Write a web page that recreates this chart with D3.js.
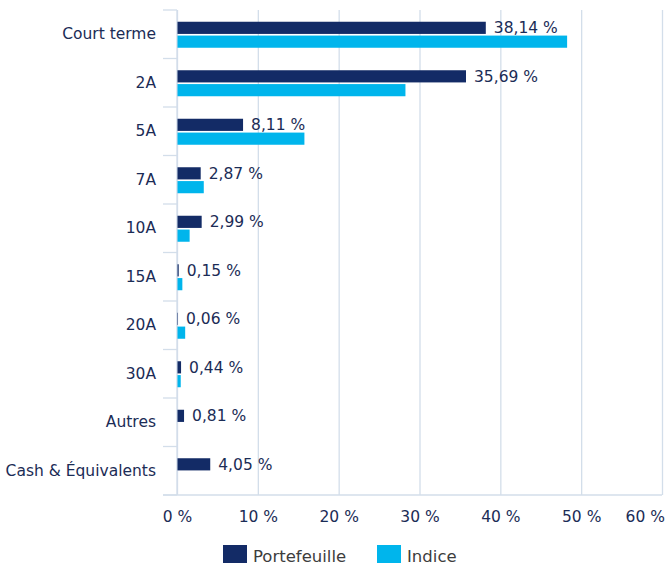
<!DOCTYPE html>
<html>
<head>
<meta charset="utf-8">
<script src="https://cdn.jsdelivr.net/npm/d3@7"></script>
<style>
  body { margin: 0; background: #fff; }
  text { font-family: "DejaVu Sans", Verdana, sans-serif; }
</style>
</head>
<body>
<div id="chart"></div>
<script>
const categories = ['Court terme', '2A', '5A', '7A', '10A', '15A', '20A', '30A', 'Autres', 'Cash & Équivalents'];
const portefeuille = [38.14, 35.69, 8.11, 2.87, 2.99, 0.15, 0.06, 0.44, 0.81, 4.05];
const indice = [48.2, 28.2, 15.7, 3.25, 1.5, 0.6, 0.95, 0.4, 0, 0];
const seriesNames = ['Portefeuille', 'Indice'];
const xTicks = [0, 10, 20, 30, 40, 50, 60];

const width = 667;
const height = 567;
const margin = { top: 10, right: 5, bottom: 72, left: 177 };
const colors = { Portefeuille: '#132b66', Indice: '#00b5ec' };
const textColor = '#1b2c56';
const gridColor = '#d3deea';

const svg = d3.select('#chart')
  .append('svg')
  .attr('width', width)
  .attr('height', height);

const x = d3.scaleLinear()
  .domain([0, 60])
  .range([margin.left, width - margin.right]);

const y = d3.scaleBand()
  .domain(categories)
  .range([margin.top, height - margin.bottom])
  .padding(0);

const groupH = 26;
const ySub = d3.scaleBand()
  .domain(seriesNames)
  .range([0, groupH])
  .paddingInner(0.12);

// vertical grid lines
svg.append('g')
  .attr('transform', `translate(0,${height - margin.bottom})`)
  .call(d3.axisBottom(x).tickValues(xTicks).tickSize(-(height - margin.top - margin.bottom)).tickFormat(''))
  .call(g => g.select('.domain').remove())
  .call(g => g.selectAll('.tick line').attr('stroke', gridColor).attr('stroke-width', 1.3));

// x tick labels
const xAxis = svg.append('g')
  .attr('transform', `translate(0,${height - margin.bottom})`)
  .call(d3.axisBottom(x).tickValues(xTicks).tickSize(0).tickPadding(16).tickFormat(d => d + ' %'))
  .call(g => g.select('.domain').remove());

xAxis.selectAll('text')
  .attr('fill', textColor)
  .attr('font-size', '15.5px')
  .attr('font-family', '"DejaVu Sans", Verdana, sans-serif')
  .each(function () {
    const bb = this.getBBox();
    const tick = this.parentNode;
    const tx = +tick.getAttribute('transform').match(/translate\(([-\d.]+)/)[1];
    const right = tx + bb.x + bb.width;
    if (right > width - 2) d3.select(this).attr('dx', (width - 2 - right) + 'px');
  });

// y axis: line, boundary ticks and labels
const bandEdges = categories.map(c => y(c)).concat([y.range()[1]]);

svg.append('line')
  .attr('x1', x(0)).attr('x2', x(0))
  .attr('y1', margin.top).attr('y2', height - margin.bottom)
  .attr('stroke', gridColor).attr('stroke-width', 1.3);

svg.selectAll('.ytick')
  .data(bandEdges)
  .enter()
  .append('line')
  .attr('x1', x(0) - 14).attr('x2', x(0))
  .attr('y1', d => d).attr('y2', d => d)
  .attr('stroke', gridColor).attr('stroke-width', 1.3);

svg.append('line')
  .attr('x1', x(0) - 14).attr('x2', x(60))
  .attr('y1', height - margin.bottom).attr('y2', height - margin.bottom)
  .attr('stroke', gridColor).attr('stroke-width', 1.3);

svg.append('g')
  .attr('transform', `translate(${x(0)},0)`)
  .call(d3.axisLeft(y).tickSize(0).tickPadding(21))
  .call(g => g.select('.domain').remove())
  .selectAll('text')
  .attr('fill', textColor)
  .attr('font-size', '15.5px')
  .attr('font-family', '"DejaVu Sans", Verdana, sans-serif');

// bars
const rows = categories.map((c, i) => ({
  cat: c,
  values: [
    { key: 'Portefeuille', value: portefeuille[i] },
    { key: 'Indice', value: indice[i] }
  ]
}));

const groups = svg.selectAll('.group')
  .data(rows)
  .enter()
  .append('g')
  .attr('transform', d => `translate(0,${y(d.cat) + (y.bandwidth() - groupH) / 2 + 0.5})`);

groups.selectAll('rect')
  .data(d => d.values)
  .enter()
  .append('rect')
  .attr('x', x(0) + 0.5)
  .attr('y', d => ySub(d.key))
  .attr('width', d => Math.max(0, x(d.value) - x(0)))
  .attr('height', ySub.bandwidth())
  .attr('fill', d => colors[d.key]);

// value labels for portefeuille
const fmt = v => d3.format('.2f')(v).replace('.', ',') + ' %';
groups.append('text')
  .attr('x', d => x(d.values[0].value) + 8.5)
  .attr('y', ySub('Portefeuille') + ySub.bandwidth() / 2)
  .attr('dy', '0.36em')
  .attr('fill', textColor)
  .attr('font-size', '15.5px')
  .text(d => fmt(d.values[0].value));

// legend
const legend = svg.append('g')
  .attr('transform', `translate(0,${height - 22})`);

const legendX = [223, 377];
seriesNames.forEach((s, i) => {
  legend.append('rect')
    .attr('x', legendX[i])
    .attr('y', 0)
    .attr('width', 24)
    .attr('height', 18)
    .attr('fill', colors[s]);
  legend.append('text')
    .attr('x', legendX[i] + 30)
    .attr('y', 17)
    .attr('fill', '#3d3d3d')
    .attr('font-size', '16.5px')
    .text(s);
});
</script>
</body>
</html>
